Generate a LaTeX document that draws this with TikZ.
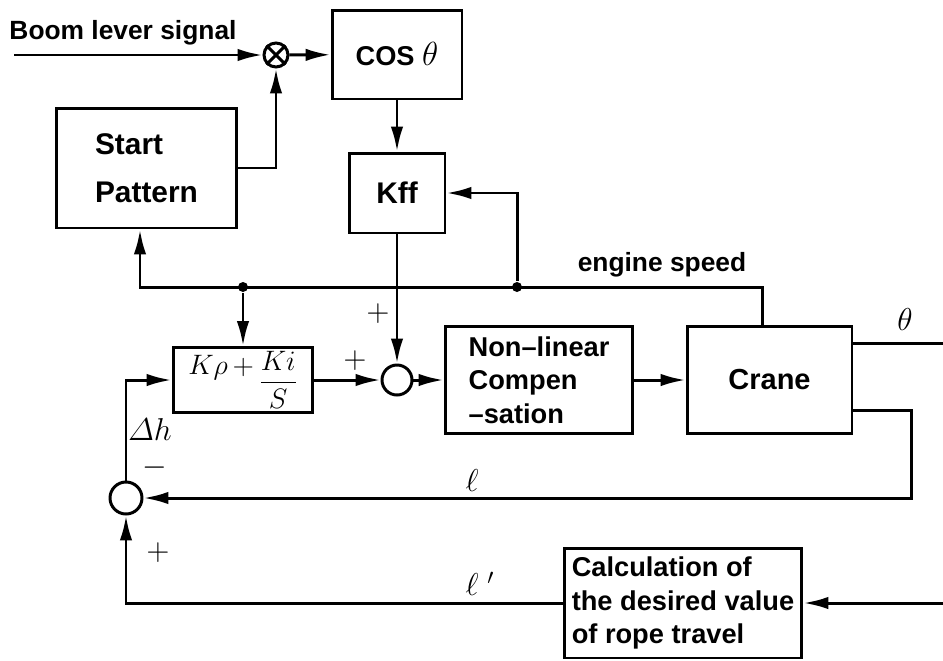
\RequirePackage{fix-cm}
\documentclass[tikz,border=0pt]{standalone}
\usepackage[no-math]{fontspec}
\setmainfont{Liberation Sans}
\usepackage{amsmath}
\usetikzlibrary{arrows.meta}

\begin{document}
\spaceskip=7pt plus 1pt\relax
\begin{tikzpicture}[x=0.02cm, y=-0.02cm, line width=1.7pt]
    \tikzstyle{arr} = [-{Latex[length=5mm,width=2.5mm]}]
    \tikzstyle{blk} = [draw, rectangle, inner sep=0pt,
        font=\fontsize{15.5}{19}\selectfont\bfseries]
    \tikzstyle{big} = [font=\fontsize{17}{27}\selectfont\bfseries]
    \tikzstyle{sum} = [draw, circle, inner sep=0pt]
    \tikzstyle{dot} = [circle, fill, inner sep=0pt, minimum size=0.2cm]
    \tikzstyle{ann} = [draw=none, fill=none,
        font=\fontsize{15}{18}\selectfont\bfseries]
    \tikzstyle{sym} = [draw=none, fill=none, inner sep=1pt, font=\fontsize{18}{20}\selectfont]

    \useasboundingbox (0,0) rectangle (943,660);

    \node[blk, big, minimum width=3.62cm, minimum height=2.4cm, align=left] (1) at (146.5,168) {Start\\Pattern};
    \node[blk, minimum width=2.6cm, minimum height=1.78cm] (2) at (397,54.5) {COS\ {\fontsize{19}{20}\selectfont$\theta$}};
    \node[blk, big, minimum width=1.92cm, minimum height=1.6cm] (3) at (397,193) {Kff};
    \node[blk, font=\fontsize{16}{18}\selectfont, minimum width=2.8cm, minimum height=1.3cm] (4) at (243,380) {$K\rho\,{+}\,\raisebox{-0.55em}{$\dfrac{Ki}{S}$}$};
    \node[blk, minimum width=3.76cm, minimum height=2.14cm, align=left] (5) at (539,380) {Non--linear\\Compen\\--sation};
    \node[blk, font=\fontsize{16.5}{20}\selectfont\bfseries, minimum width=3.3cm, minimum height=2.14cm] (6) at (769.5,380) {Crane};
    \node[blk, minimum width=4.76cm, minimum height=2.2cm, align=left] (7) at (683,603) {Calculation of\\the desired value\\of rope travel};

    \node[sum, minimum size=0.48cm] (8) at (276,55) {};
    \node[sum, minimum size=0.6cm] (9) at (397,380) {};
    \node[sum, minimum size=0.64cm] (10) at (126,498) {};
    \draw (8.north west) -- (8.south east);
    \draw (8.north east) -- (8.south west);

    \node[dot] (15) at (243,287) {};
    \node[dot] (16) at (517,287) {};

    \coordinate (11) at (14,55);
    \coordinate (13) at (762,287);
    \coordinate (14) at (140,287);
    \coordinate (18) at (943,343);
    \coordinate (20) at (911,410);
    \coordinate (26) at (943,603);

    \node[ann] (12) at (123,33) {Boom lever signal};
    \node[ann] (17) at (662,265) {engine speed};
    \node[sym] (19) at (905,320) {$\theta$};
    \node[sym] (21) at (472,481) {$\ell$};
    \node[sym] (22) at (150,430) {$\varDelta h$};
    \node[sym] (23) at (155,468) {$-$};
    \node[sym] (24) at (158,553) {$+$};
    \node[sym] (25) at (480,584) {$\ell\;'$};
    \node[sym] (27) at (378,314) {$+$};
    \node[sym] (28) at (355,361) {$+$};

    \draw[arr] (11) -- (8);
    \draw[arr] (8) -- (2);
    \draw[arr] (1) -| (8);
    \draw[arr] (2) -- (3);
    \draw[arr] (3) -- (9);
    \draw[arr] (4) -- (9);
    \draw[arr] (9) -- (5);
    \draw[arr] (5) -- (6);

    \draw[arr] (13 |- 6.north) -- (13) -- (14) -- (14 |- 1.south);
    \draw[arr] (15) -- (4);
    \draw[arr] (16) |- (3);

    \draw (18 -| 6.east) -- (18);
    \draw[arr] (20 -| 6.east) -- (20) |- (10);
    \draw[arr] (10) |- (4);
    \draw[arr] (7) -| (10);
    \draw[arr] (26) -- (7);

\end{tikzpicture}
\end{document}
